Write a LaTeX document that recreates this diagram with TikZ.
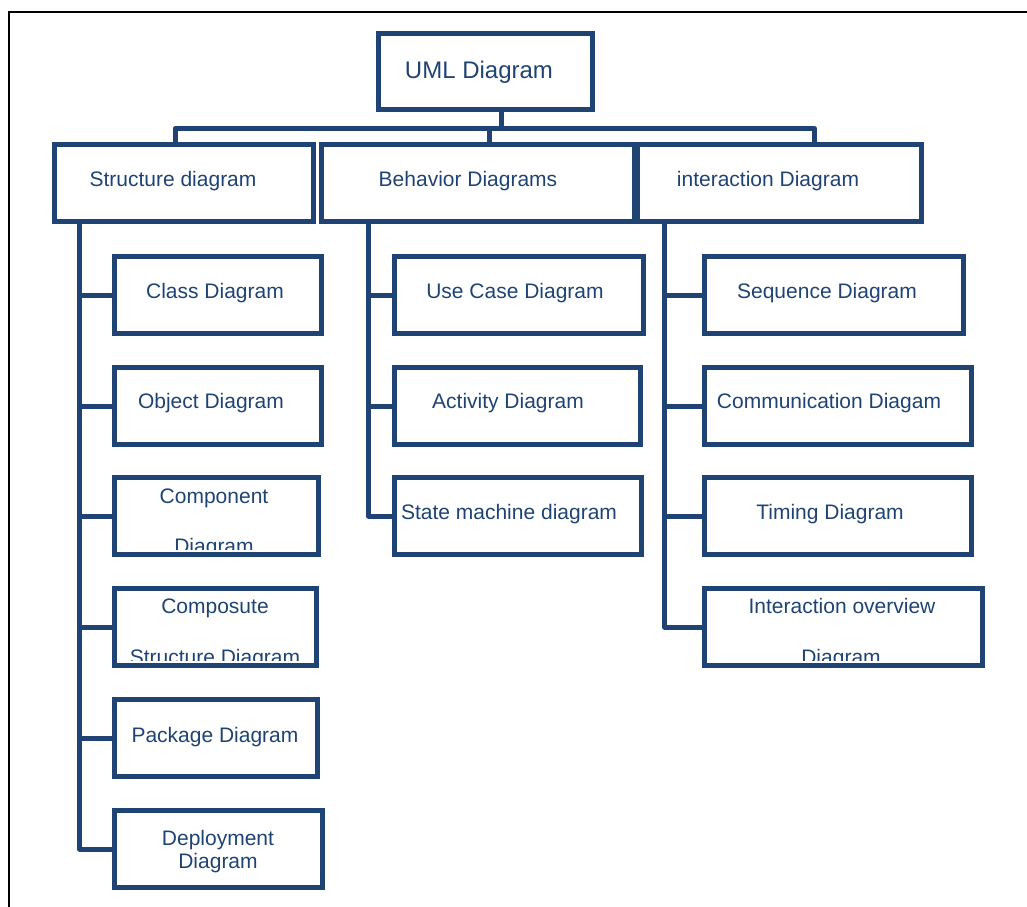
\documentclass[tikz,border=0pt]{standalone}
\usepackage{fontspec}
\setmainfont{Liberation Sans}
\definecolor{navy}{HTML}{1F4373}
\begin{document}
\begin{tikzpicture}[x=1pt,y=-1pt,
  box/.style={draw=navy, line width=5pt, rectangle, inner sep=0pt, minimum height=77pt},
  conn/.style={draw=navy, line width=5pt, line join=round},
  lbl/.style={text=navy, font=\fontsize{21}{25}\selectfont, inner sep=0pt, anchor=base},
  frame/.style={draw=black, line width=1.6pt}]
\useasboundingbox (0,0) rectangle (1027,906);
\path[frame] (9,12) rectangle (1045,925);

% top level
\node[box, minimum width=214pt, minimum height=76pt] (uml) at (485.5,71.5) {};
\node[box, minimum width=259pt] (struct) at (184,183) {};
\node[box, minimum width=313pt] (beh) at (478,183) {};
\node[box, minimum width=284pt] (inter) at (779.5,183) {};

% structure children
\node[box, minimum width=207pt] (class) at (218,295) {};
\node[box, minimum width=207pt] (object) at (218,406) {};
\node[box, minimum width=204pt] (comp) at (216.5,516) {};
\node[box, minimum width=202pt] (compo) at (215.5,627) {};
\node[box, minimum width=203pt] (pack) at (216,738) {};
\node[box, minimum width=208pt] (deploy) at (218.5,849) {};
% behavior children
\node[box, minimum width=249pt] (usecase) at (519,295) {};
\node[box, minimum width=246pt] (activity) at (517.5,406) {};
\node[box, minimum width=247pt] (state) at (518,516) {};
% interaction children
\node[box, minimum width=259pt] (seq) at (834,295) {};
\node[box, minimum width=267pt] (comm) at (838,406) {};
\node[box, minimum width=267pt] (timing) at (838,516) {};
\node[box, minimum width=278pt] (overview) at (843.5,627) {};

% labels
\node[lbl, font=\fontsize{24}{28}\selectfont] (tuml) at (479,78) {UML Diagram};
\node[lbl] (tstruct) at (173,186) {Structure diagram};
\node[lbl] (tbeh) at (468,186) {Behavior Diagrams};
\node[lbl] (tinter) at (768,186) {interaction Diagram};
\node[lbl] (tclass) at (215,298) {Class Diagram};
\node[lbl] (tobject) at (211,408) {Object Diagram};
\node[lbl] (tcomp) at (214,503) {Component};
\begin{scope}
  \clip ([shift={(5pt,8pt)}]comp.south west) rectangle ([shift={(-5pt,-5pt)}]comp.north east);
  \node[lbl] (tcomp2) at (214,553) {Diagram};
\end{scope}
\node[lbl] (tcompo) at (215,613) {Composute};
\begin{scope}
  \clip ([shift={(5pt,8pt)}]compo.south west) rectangle ([shift={(-5pt,-5pt)}]compo.north east);
  \node[lbl] (tcompo2) at (215,664) {Structure Diagram};
\end{scope}
\node[lbl] (tpack) at (215,742) {Package Diagram};
\node[lbl] (tdeploy) at (218,845) {Deployment};
\node[lbl] (tdeploy2) at (218,868) {Diagram};
\node[lbl] (tusecase) at (515,298) {Use Case Diagram};
\node[lbl] (tactivity) at (508,408) {Activity Diagram};
\node[lbl] (tstate) at (509,519) {State machine diagram};
\node[lbl] (tseq) at (827,298) {Sequence Diagram};
\node[lbl] (tcomm) at (829,408) {Communication Diagam};
\node[lbl] (ttiming) at (830,519) {Timing Diagram};
\node[lbl] (toverview) at (842,613) {Interaction overview};
\begin{scope}
  \clip ([shift={(5pt,8pt)}]overview.south west) rectangle ([shift={(-5pt,-5pt)}]overview.north east);
  \node[lbl] (toverview2) at (841,664) {Diagram};
\end{scope}

% top connectors
\coordinate (bus) at (501,128.5);
\coordinate (sd) at (175,0);
\coordinate (bd) at (489.5,0);
\coordinate (id) at (814.5,0);
\draw[conn] (uml.south -| bus) -- (bus);
\draw[conn] (struct.north -| sd) |- (bus) -| (inter.north -| id);
\draw[conn] (beh.north -| bd) -- (bd |- bus);

% structure spine
\coordinate (ss) at (79.5,0);
\draw[conn] (struct.south -| ss) |- (deploy.west);
\foreach \c in {class,object,comp,compo,pack}
  \draw[conn] (ss |- \c.west) -- (\c.west);
% behavior spine
\coordinate (bs) at (368.5,0);
\draw[conn] (beh.south -| bs) |- (state.west);
\foreach \c in {usecase,activity}
  \draw[conn] (bs |- \c.west) -- (\c.west);
% interaction spine
\coordinate (is) at (664.5,0);
\draw[conn] (inter.south -| is) |- (overview.west);
\foreach \c in {seq,comm,timing}
  \draw[conn] (is |- \c.west) -- (\c.west);
\end{tikzpicture}
\end{document}
